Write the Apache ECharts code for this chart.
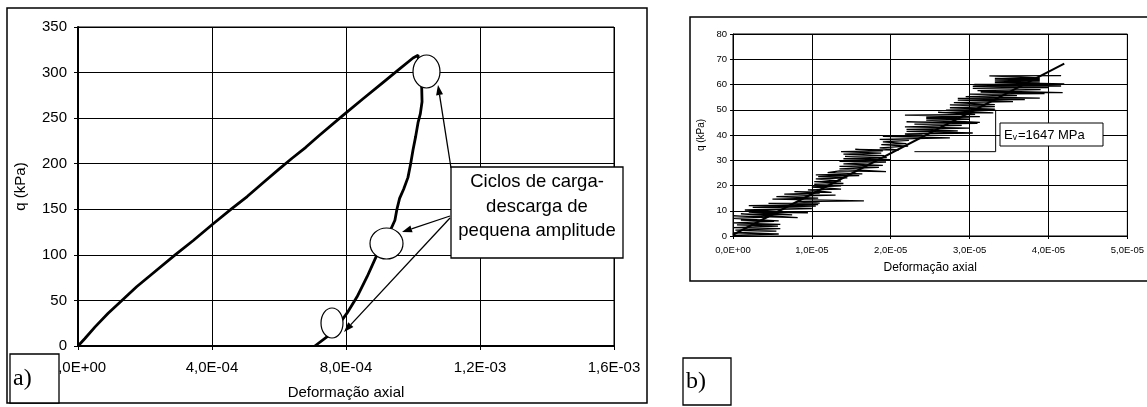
<!DOCTYPE html>
<html>
<head>
<meta charset="utf-8">
<script src="https://cdn.jsdelivr.net/npm/echarts@6/dist/echarts.min.js"></script>
<style>
html,body{margin:0;padding:0;background:#fff;}
#c{width:1147px;height:407px;}
</style>
</head>
<body>
<div id="c"></div>
<script>
// ---------- DATA ----------
// Chart a): strain in units of 1e-3, q in kPa
const loadingCurve = [
  [0,0],[0.02,8],[0.051,21],[0.09,36],[0.131,50],[0.175,65],[0.221,79],[0.29,100],
  [0.345,116],[0.4,133],[0.46,151],[0.505,164],[0.549,178],[0.6,194],[0.639,206],
  [0.68,218],[0.72,231],[0.791,253],[0.85,271],[0.91,289],[0.96,304],[1.0,316],[1.015,319]
];
const unloadingCurve = [
  [1.026,283],[1.027,268],[1.022,255],[1.015,245],[1.008,230],[1.0,215],[0.993,200],
  [0.985,185],[0.972,172],[0.96,162],[0.952,150],[0.946,138],[0.93,125],[0.915,113],
  [0.89,98],[0.863,76],[0.833,54],[0.803,36],[0.773,21],[0.743,10],[0.707,0]
];
const leftXTicks = ['0,0E+00','4,0E-04','8,0E-04','1,2E-03','1,6E-03'];
const leftYTicks = [0,50,100,150,200,250,300,350];

// Chart b): strain in units of 1e-5, q in kPa
const cyclicPath = [
  [0,0.2],[0.58,0.8],[0,1.2],[0.55,1.9],[0.03,2.3],[0.6,2.9],[0,3.3],[0.57,3.9],[0.05,4.4],[0.6,4.6],
  [0,5.2],[0.52,5.8],[0.1,6.3],[0.58,6.0],[0,7.0],[0.45,7.5],
  [0,8.0],[0.82,7.3],[0.1,8.8],[0.75,8.4],[0.2,9.5],[0.95,9.2],[0.15,10.3],[1.0,10.9],[0.25,11.3],[1.05,11.8],
  [0.2,12.0],[1.08,12.4],[0.45,12.9],[1.1,13.0],[0.8,13.6],[1.66,13.9],
  [0.5,14.6],[1.08,15.0],[0.55,15.6],[1.3,16.2],[0.65,16.6],[1.1,17.0],[0.78,17.6],[1.25,17.3],
  [0.95,18.3],[1.37,18.6],[1.0,19.4],[1.37,19.9],[1.03,20.5],[1.4,20.8],[1.03,21.5],[1.37,21.7],[1.05,22.6],[1.45,23.0],
  [1.08,23.5],[1.6,23.9],[1.05,24.2],[1.64,24.6],[1.2,25.1],
  [1.35,25.8],[1.94,25.5],[1.35,26.6],[1.85,27.2],[1.35,27.6],[1.9,28.0],[1.4,28.6],[1.94,29.3],[1.35,29.6],[2.0,30.2],
  [1.4,30.6],[1.95,31.0],[1.42,31.5],[1.92,31.8],[1.4,32.4],[1.88,32.8],[1.37,33.4],[1.9,33.7],[1.55,34.3],[2.1,34.0],
  [1.86,34.9],[2.22,35.6],[1.88,36.2],[2.2,36.6],[1.9,37.3],[2.23,37.9],[1.86,38.3],[2.75,38.9],[1.9,39.5],[2.4,39.8],
  [2.18,40.4],[3.04,40.8],[2.2,41.4],[2.85,41.6],[2.2,42.2],[3.0,42.7],[2.18,43.2],[2.9,43.8],[2.3,44.3],[3.1,44.6],
  [2.2,45.2],[3.13,45.0],[2.45,45.9],[3.0,46.2],[2.45,46.6],[3.0,46.9],[2.45,47.1],[3.13,47.3],[2.18,47.9],[3.07,48.2],
  [2.6,49.0],[3.3,48.8],[2.7,49.8],[3.32,50.2],[2.75,50.8],[3.32,51.2],[2.75,51.9],[3.32,52.0],[2.8,52.8],[3.55,53.2],
  [2.85,53.8],[3.7,54.0],[2.85,54.5],[3.89,54.6],[2.95,55.2],[3.6,55.6],[3.0,56.2],[3.95,56.4],[3.14,57.0],[4.18,56.8],
  [3.1,57.6],[3.9,58.0],[3.04,58.5],[4.0,58.8],[3.04,59.3],[4.16,59.4],[3.06,60.0],[4.2,60.2],[3.32,60.8],[3.89,61.0],
  [3.32,61.4],[3.89,61.6],[3.32,61.9],[3.89,62.1],[3.32,62.4],[3.89,62.6],[3.25,63.4],[4.16,63.5]
];
const fitLine = [[0,0.5],[4.2,68.3]];
const leaderLine = [[2.3,33.4],[3.33,33.4],[3.33,50]];
const rightXTicks = ['0,0E+00','1,0E-05','2,0E-05','3,0E-05','4,0E-05','5,0E-05'];
const rightYTicks = [0,10,20,30,40,50,60,70,80];

// ---------- BUILD ----------
const scaleA = 1e-3, scaleB = 1e-5;
const toA = arr => arr.map(p => [p[0]*scaleA, p[1]]);
const toB = arr => arr.map(p => [p[0]*scaleB, p[1]]);
const curveA = toA(loadingCurve.concat(unloadingCurve));

const SANS = 'Liberation Sans, Arial, sans-serif';
const SERIF = 'Liberation Serif, Times New Roman, serif';

function arrow(x1,y1,x2,y2){
  const a = Math.atan2(y2-y1, x2-x1), L = 10, W = 3.5;
  const bx = x2 - L*Math.cos(a), by = y2 - L*Math.sin(a);
  const px = -Math.sin(a)*W, py = Math.cos(a)*W;
  return [
    {type:'line', z:110, shape:{x1:x1,y1:y1,x2:bx,y2:by}, style:{stroke:'#000',lineWidth:1.3}},
    {type:'polygon', z:110, shape:{points:[[x2,y2],[bx+px,by+py],[bx-px,by-py]]}, style:{fill:'#000'}}
  ];
}

const chart = echarts.init(document.getElementById('c'), null, {renderer:'canvas'});

const option = {
  backgroundColor:'#fff',
  animation:false,
  grid:[
    {left:78, top:27, width:536, height:319, show:true, borderColor:'#000', borderWidth:1, backgroundColor:'transparent'},
    {left:733, top:34, width:395, height:202, show:true, borderColor:'#000', borderWidth:1, backgroundColor:'transparent'}
  ],
  xAxis:[
    {gridIndex:0, type:'value', min:0, max:0.0016, interval:0.0004,
     name:'Deformação axial', nameLocation:'middle', nameGap:39,
     nameTextStyle:{fontFamily:SANS, fontSize:15, color:'#000'},
     axisLine:{show:true, onZero:false, lineStyle:{color:'#000', width:2}},
     axisTick:{show:true, length:4, lineStyle:{color:'#000'}},
     axisLabel:{margin:14, fontFamily:SANS, fontSize:15, color:'#000',
       formatter:v => leftXTicks[Math.round(v/0.0004)] || ''},
     splitLine:{show:true, lineStyle:{color:'#000', width:1}}},
    {gridIndex:1, type:'value', min:0, max:0.00005, interval:0.00001,
     name:'Deformação axial', nameLocation:'middle', nameGap:26,
     nameTextStyle:{fontFamily:SANS, fontSize:12, color:'#000'},
     axisLine:{show:true, onZero:false, lineStyle:{color:'#000', width:1}},
     axisTick:{show:true, length:3, lineStyle:{color:'#000'}},
     axisLabel:{margin:9, fontFamily:SANS, fontSize:9.5, color:'#000',
       formatter:v => rightXTicks[Math.round(v/0.00001)] || ''},
     splitLine:{show:true, lineStyle:{color:'#000', width:1}}}
  ],
  yAxis:[
    {gridIndex:0, type:'value', min:0, max:350, interval:50,
     name:'q (kPa)', nameLocation:'middle', nameGap:50,
     nameTextStyle:{fontFamily:SANS, fontSize:15, color:'#000'},
     axisLine:{show:true, onZero:false, lineStyle:{color:'#000', width:2}},
     axisTick:{show:true, length:4, lineStyle:{color:'#000'}},
     axisLabel:{margin:11, fontFamily:SANS, fontSize:15, color:'#000',
       formatter:v => leftYTicks.indexOf(v) >= 0 ? String(v) : ''},
     splitLine:{show:true, lineStyle:{color:'#000', width:1}}},
    {gridIndex:1, type:'value', min:0, max:80, interval:10,
     name:'q (kPa)', nameLocation:'middle', nameGap:27,
     nameTextStyle:{fontFamily:SANS, fontSize:10, color:'#000'},
     axisLine:{show:true, onZero:false, lineStyle:{color:'#000', width:1}},
     axisTick:{show:true, length:3, lineStyle:{color:'#000'}},
     axisLabel:{margin:6, fontFamily:SANS, fontSize:9.5, color:'#000',
       formatter:v => rightYTicks.indexOf(v) >= 0 ? String(v) : ''},
     splitLine:{show:true, lineStyle:{color:'#000', width:1}}}
  ],
  series:[
    {type:'line', xAxisIndex:0, yAxisIndex:0, data:curveA, symbol:'none',
     lineStyle:{color:'#000', width:2.8}, z:5},
    {type:'line', xAxisIndex:1, yAxisIndex:1, data:toB(cyclicPath), symbol:'none',
     lineStyle:{color:'#000', width:1.3}, z:5},
    {type:'line', xAxisIndex:1, yAxisIndex:1, data:toB(fitLine), symbol:'none',
     lineStyle:{color:'#000', width:2}, z:6},
    {type:'line', xAxisIndex:1, yAxisIndex:1, data:toB(leaderLine), symbol:'none',
     lineStyle:{color:'#000', width:1}, z:6}
  ],
  graphic:[
    {type:'rect', z:1, silent:true, shape:{x:7,y:8,width:640,height:395}, style:{fill:'none',stroke:'#000',lineWidth:1.5}},
    {type:'rect', z:1, silent:true, shape:{x:690,y:17,width:460,height:264}, style:{fill:'none',stroke:'#000',lineWidth:1.5}},
    {type:'ellipse', z:100, shape:{cx:426.5,cy:71.5,rx:13.5,ry:16.5}, style:{fill:'#fff',stroke:'#000',lineWidth:1.2}},
    {type:'ellipse', z:100, shape:{cx:386.5,cy:243.5,rx:16.5,ry:15.5}, style:{fill:'#fff',stroke:'#000',lineWidth:1.2}},
    {type:'ellipse', z:100, shape:{cx:332,cy:323,rx:11,ry:15}, style:{fill:'#fff',stroke:'#000',lineWidth:1.2}},
    ...arrow(451,168,438,85),
    ...arrow(450,216,402,232),
    ...arrow(450,218,344,332),
    {type:'rect', z:120, shape:{x:451,y:167,width:172,height:91}, style:{fill:'#fff',stroke:'#000',lineWidth:1.3}},
    {type:'text', z:121, x:537, y:182, style:{text:'Ciclos de carga-', fontFamily:SANS, fontSize:18.5, fill:'#000', align:'center', verticalAlign:'middle'}},
    {type:'text', z:121, x:537, y:207, style:{text:'descarga de', fontFamily:SANS, fontSize:18.5, fill:'#000', align:'center', verticalAlign:'middle'}},
    {type:'text', z:121, x:537, y:231, style:{text:'pequena amplitude', fontFamily:SANS, fontSize:18.5, fill:'#000', align:'center', verticalAlign:'middle'}},
    {type:'rect', z:120, shape:{x:1000,y:123,width:103,height:23}, style:{fill:'#fff',stroke:'#000',lineWidth:1}},
    {type:'text', z:121, x:1004, y:135, style:{
      text:'{a|E}{s|v}{a|=1647 MPa}', verticalAlign:'middle', align:'left',
      rich:{a:{fontFamily:SANS, fontSize:13, fill:'#000'}, s:{fontFamily:SANS, fontSize:8.5, fill:'#000', padding:[6,1,0,0]}}}},
    {type:'rect', z:130, shape:{x:10,y:354,width:49,height:49}, style:{fill:'#fff',stroke:'#000',lineWidth:1.3}},
    {type:'text', z:131, x:13, y:379, style:{text:'a)', fontFamily:SERIF, fontSize:24, fill:'#000', verticalAlign:'middle'}},
    {type:'rect', z:130, shape:{x:683,y:358,width:48,height:47}, style:{fill:'#fff',stroke:'#000',lineWidth:1.3}},
    {type:'text', z:131, x:686, y:382, style:{text:'b)', fontFamily:SERIF, fontSize:24, fill:'#000', verticalAlign:'middle'}}
  ]
};
chart.setOption(option);
</script>
</body>
</html>
